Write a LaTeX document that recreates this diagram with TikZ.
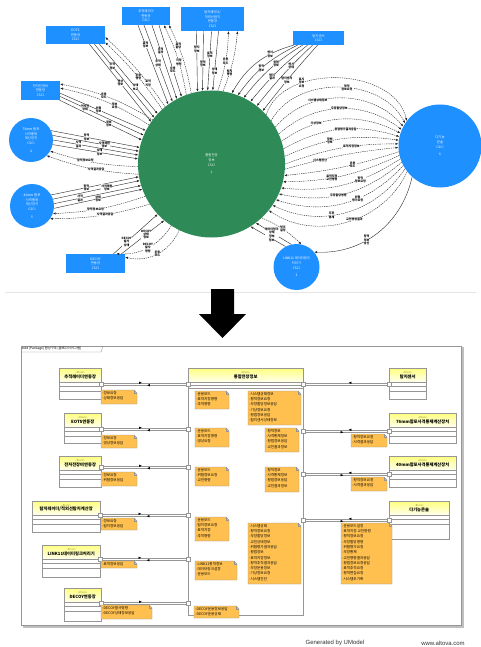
\documentclass[tikz,border=0pt]{standalone}
\usepackage{fontspec}
\setmainfont{Noto Sans CJK KR}
\newfontfamily\footfont{Liberation Sans}
\usetikzlibrary{arrows.meta,decorations.markings}
\definecolor{cblue}{RGB}{30,144,255}
\definecolor{cgreen}{RGB}{46,139,87}
\definecolor{cnote}{RGB}{255,192,80}
\definecolor{cgray}{RGB}{150,150,150}
\definecolor{colive}{RGB}{150,150,40}
\newcommand\mkblock[6]{%
  \node[blkhdr, minimum width=#4pt, anchor=north west] (#1) at (#2,#3)
    {{\fontsize{2.6}{3}\selectfont\color{colive}«Block»}\\[-0.3pt]{\bfseries #6}};
  \draw[clsline] (#2,#3+14) rectangle (#2+#4,#5);
  \draw[clsline] (#2,#3+18.5) -- (#2+#4,#3+18.5);
  \draw[clsline] (#2,#3+23) -- (#2+#4,#3+23);
}
\newcommand\mknote[6]{%
  \filldraw[notebox] (#2,#3) -- (#2+#4-3,#3) -- (#2+#4,#3+3) -- (#2+#4,#3+#5) -- (#2,#3+#5) -- cycle;
  \draw[notebox, fill=none] (#2+#4-3,#3) -- (#2+#4-3,#3+3) -- (#2+#4,#3+3);
  \node[notetext, anchor=north west] (#1) at (#2+0.6,#3+0.6) {#6};
}
\begin{document}
\begin{tikzpicture}[x=1pt,y=-1pt,
  sol/.style={draw=black!85, line width=0.4pt, -{Latex[length=2.8pt,width=2.2pt]}},
  das/.style={sol, dash pattern=on 1.3pt off 0.9pt},
  lbl/.style={font=\fontsize{3}{3.4}\selectfont\bfseries, align=center, fill=white, inner sep=0.1pt, text=black},
  cnode/.style={circle, inner sep=0pt, fill=cblue, text=white, font=\fontsize{3.3}{4.6}\selectfont, align=center},
  bnode/.style={rectangle, inner sep=0pt, fill=cblue, text=white, font=\fontsize{3.3}{4.6}\selectfont, align=center},
  blkhdr/.style={draw=cgray, line width=0.4pt, top color=yellow!50, bottom color=yellow!6, minimum height=14pt, inner sep=0.5pt, align=center, font=\fontsize{4.3}{4.6}\selectfont},
  clsline/.style={draw=cgray, line width=0.45pt},
  notebox/.style={fill=cnote, draw=cgray, line width=0.4pt},
  notetext/.style={font=\fontsize{3.6}{5.3}\selectfont, align=left, inner sep=0.5pt},
  port/.style={draw=cgray, fill=white, minimum size=4.5pt, inner sep=0pt, line width=0.4pt},
  conn/.style={draw=cgray, line width=0.5pt},
  midR/.style={postaction={decorate}, decoration={markings, mark=at position 0.47 with {\arrow[black]{Latex[length=3pt,width=2.5pt]}}}},
  midL/.style={postaction={decorate}, decoration={markings, mark=at position 0.53 with {\arrowreversed[black]{Latex[length=3pt,width=2.5pt]}}}}
]
\useasboundingbox (0,0) rectangle (481,647);
\fill[white] (0,0) rectangle (481,647);

% ================= TOP DIAGRAM =================
\node[cnode, fill=cgreen, minimum size=147pt] (G) at (211.5,164) {통합전장\\정보\\CSCI\\[3pt]1};
\node[cnode, minimum size=83pt] (D) at (440,146) {다기능\\콘솔\\CSCI\\[3pt]6};
\node[cnode, minimum size=46pt] (L) at (296.5,267) {LINK11 데이터링크\\처리기\\CSCI\\[3pt]3};
\node[cnode, minimum size=44pt] (C76) at (31,140) {76mm 함포\\사격통제\\계산장치\\CSCI\\[3pt]4};
\node[cnode, minimum size=44pt] (C40) at (32,206) {40mm 함포\\사격통제\\계산장치\\CSCI\\[3pt]5};
\node[bnode, minimum width=48pt, minimum height=18pt] (T1) at (146,16) {추적레이더\\연동장\\CSCI};
\node[bnode, minimum width=63pt, minimum height=24pt] (T2) at (212.5,19) {탐지레이더/\\적외선탐지\\연동장\\CSCI};
\node[bnode, minimum width=59pt, minimum height=18pt] (E) at (75.5,35) {EOTS\\연동장\\CSCI};
\node[bnode, minimum width=39pt, minimum height=19pt] (W) at (40.5,90.5) {전자전장비\\연동장\\CSCI};
\node[bnode, minimum width=51pt, minimum height=14pt] (S) at (318.5,38) {탐지센서\\CSCI};
\node[bnode, minimum width=59pt, minimum height=19pt] (Y) at (95.5,263.5) {DECOY\\연동장\\CSCI};

% 추적레이더
\foreach \dx/\ang/\p/\l in {-8/126/0.25/표적\\정보, -2/122/0.5/추적\\상태, 6/118/0.35/추적\\결과, 13/114/0.62/운용\\모드}
  \draw[sol] ([xshift=\dx pt]T1.south) -- node[lbl,pos=\p]{\l} (G.\ang);
\foreach \ang/\dx/\p/\l in {110/18/0.45/지정\\명령, 106/23/0.7/표적\\할당}
  \draw[das] (G.\ang) to[bend right=8] node[lbl,pos=\p]{\l} ([xshift=\dx pt]T1.south);
% 탐지레이더
\foreach \dx/\ang/\p/\l in {-16/101/0.3/탐지\\정보, -9/97/0.55/항적\\정보, -1/93/0.4/표적\\정보, 6/89/0.68/상태\\정보}
  \draw[sol] ([xshift=\dx pt]T2.south) -- node[lbl,pos=\p]{\l} (G.\ang);
\foreach \ang/\dx/\p/\l in {85/16/0.5/운용\\모드, 81/25/0.3/탐지\\명령}
  \draw[das] (G.\ang) to[bend right=8] node[lbl,pos=\p]{\l} ([xshift=\dx pt]T2.south);
% 탐지센서
\foreach \dx/\ang/\b/\p/\l in {-25/74/22/0.3/센서\\정보, -21/69/14/0.55/항적\\정보, -16/64/10/0.4/위협\\정보, -11/58/6/0.6/탐지\\결과, -6/52/4/0.35/센서\\상태, -1/46/2/0.55/탐지센서\\정보}
  \draw[sol] ([xshift=\dx pt]S.south) to[bend right=\b] node[lbl,pos=\p]{\l} (G.\ang);
% EOTS
\foreach \dx/\ang/\p/\l in {14/145/0.5/영상\\정보, 19/141/0.3/추적\\정보, 24/137/0.62/상태\\보고}
  \draw[sol] ([xshift=\dx pt]E.south) -- node[lbl,pos=\p]{\l} (G.\ang);
\foreach \ang/\a/\p/\l in {132/-14/0.45/운용\\명령, 129/-4/0.3/표적\\지정}
  \draw[das] (G.\ang) to[bend right=6] node[lbl,pos=\p]{\l} (E.\a);
% 전자전
\foreach \a/\ang/\p/\l in {-8/153/0.45/위협\\정보, -17/157/0.3/전자전\\상태, -27/161/0.6/경보\\정보}
  \draw[sol] (W.\a) -- node[lbl,pos=\p]{\l} (G.\ang);
\foreach \ang/\a/\p/\l in {143/18/0.55/운용\\모드, 148/7/0.4/정보\\요청}
  \draw[das] (G.\ang) to[bend right=10] node[lbl,pos=\p]{\l} (W.\a);
% 76mm
\foreach \a/\ang/\p/\l in {25/167/0.4/항적\\정보, 12/170/0.6/사격제원\\정보, 0/173/0.3/사격\\결과, -12/176/0.55/상태\\정보}
  \draw[sol] (C76.\a) -- node[lbl,pos=\p]{\l} (G.\ang);
\foreach \ang/\a/\p/\l in {182/-30/0.6/항적정보요청, 188/-45/0.45/사격결과응답}
  \draw[das] (G.\ang) to[bend left=8] node[lbl,pos=\p]{\l} (C76.\a);
% 40mm
\foreach \a/\ang/\p/\l in {30/190/0.4/항적\\정보, 18/193.5/0.62/사격제원\\정보, 6/197/0.3/사격\\결과, -6/200/0.5/상태\\정보}
  \draw[sol] (C40.\a) -- node[lbl,pos=\p]{\l} (G.\ang);
\foreach \ang/\a/\p/\l in {206/-20/0.55/항적정보요청, 213/-35/0.45/사격결과응답}
  \draw[das] (G.\ang) to[bend left=8] node[lbl,pos=\p]{\l} (C40.\a);
% DECOY
\draw[sol] ([xshift=18pt]Y.north) -- node[lbl,pos=0.3]{DECOY\\발사\\상태} (G.223);
\draw[sol] ([xshift=26pt]Y.north) -- node[lbl,pos=0.58]{DECOY\\상태\\정보} (G.230);
\draw[das] (G.237) to[bend left=30] node[lbl,pos=0.5]{DECOY\\발사\\명령} (Y.25);
\draw[das] (G.244) to[bend left=40] node[lbl,pos=0.5]{운용\\모드} (Y.12);
% LINK11
\draw[sol] (L.118) -- node[lbl,pos=0.4]{항적\\정보} (G.-58);
\draw[sol] (L.103) -- node[lbl,pos=0.55]{데이터링크\\상태\\정보} (G.-53);
\draw[das] (G.-47) to[bend left=10] node[lbl,pos=0.5]{링크\\설정} (L.78);
% 다기능 콘솔
\foreach \ga/\da/\b/\p/\l in {42/143/75/0.3/표시\\정보\\요청, 36/147/62/0.55/항적\\정보요청, 30/152/50/0.35/시스템상태정보, 24/157/40/0.5/무장할당정보, 18/162/31/0.3/기상정보, 12/167/23/0.55/위협평가결과응답, 6/172/16/0.4/항법\\정보, 0/177/10/0.6/표적지정정보, -4/182/5/0.3/시스템진단}
  \draw[das] (G.\ga) to[bend left=\b] node[lbl,pos=\p]{\l} (D.\da);
\foreach \da/\ga/\b/\p/\l in {188/-9/6/0.4/운용\\모드, 193/-14/12/0.6/표적지정\\교전명령, 198/-19/19/0.35/항적\\정보요청, 203/-24/26/0.55/무장할당명령, 208/-29/33/0.4/위협\\평가요청, 213/-34/41/0.6/무장\\통제, 218/-39/50/0.45/교전명령결과}
  \draw[das] (D.\da) to[bend left=\b] node[lbl,pos=\p]{\l} (G.\ga);
\draw[sol] (D.228) to[bend left=40] node[lbl,pos=0.6]{항적\\정보\\송신} (L.40);

% big arrow
\draw[black!10, line width=0.4pt] (5,292) -- (476,292);
\fill[black] (211,289) -- (234,289) -- (234,314) -- (246,314) -- (222.5,338) -- (199,314) -- (211,314) -- cycle;

% ================= BOTTOM DIAGRAM =================
\draw[black!25, line width=1.4pt] (23,348) -- (463,348) -- (463,627) -- (23,627);
\draw[cgray, fill=white, line width=0.5pt] (21,346) rectangle (461,625);
\draw[cgray, line width=0.4pt] (21,352) -- (101,352) -- (103,346);
\node[anchor=west, font=\fontsize{3.3}{3.5}\selectfont, inner sep=0pt] (ttl) at (22,349) {bdd [Package] 합성구조 [블록다이어그램]};

% center block
\node[blkhdr, minimum width=115pt, anchor=north west] (CC) at (188,368)
  {{\fontsize{2.6}{3}\selectfont\color{colive}«Block»}\\[-0.3pt]{\bfseries 통합전장정보}};
\draw[clsline] (188,382) rectangle (303,615);
\draw[clsline] (188,385.5) -- (303,385.5);
\draw[clsline] (188,388.5) -- (303,388.5);

% left blocks
\mkblock{A1}{59}{368}{42}{399}{추적레이더연동장}
\mkblock{A2}{64}{413}{37}{443}{EOTS연동장}
\mkblock{A3}{59}{456}{42}{487}{전자전장비연동장}
\mkblock{A4}{32}{501}{68}{532}{탐지레이더/적외선탐지계산장}
\mkblock{A5}{42}{545}{58}{577}{LINK11데이터링크처리기}
\mkblock{A6}{64}{588}{37}{621}{DECOY연동장}
% right blocks
\mkblock{B1}{389}{368}{37}{399}{탐지센서}
\mkblock{B2}{389}{413}{67}{443}{76mm함포사격통제계산장치}
\mkblock{B3}{389}{456}{67}{487}{40mm함포사격통제계산장치}
\mkblock{B4}{389}{501}{60}{539}{다기능콘솔}

% ports
\node[port] (pA1) at (101,384) {};  \node[port] (qA1) at (188,384) {};
\node[port] (pA2) at (101,429) {};  \node[port] (qA2) at (188,429) {};
\node[port] (pA3) at (101,467) {};  \node[port] (qA3) at (188,467) {};
\node[port] (pA4) at (100,515) {};  \node[port] (qA4) at (188,515) {};
\node[port] (pA5) at (100,559) {};  \node[port] (qA5) at (188,559) {};
\node[port] (pA6) at (101,603) {};  \node[port] (qA6) at (188,603) {};
\node[port] (qB1) at (303,384) {};  \node[port] (pB1) at (389,384) {};
\node[port] (qB2) at (303,431) {};  \node[port] (pB2) at (389,431) {};
\node[port] (qB3) at (303,474) {};  \node[port] (pB3) at (389,474) {};
\node[port] (qB4) at (303,520) {};  \node[port] (pB4) at (389,520) {};

% connectors left
\foreach \i in {1,2,3,4,5}{
  \draw[conn, midR] ([yshift=1.2pt]pA\i.east) -- ([yshift=1.2pt]qA\i.west);
  \draw[conn, midL] ([yshift=-1.2pt]pA\i.east) -- ([yshift=-1.2pt]qA\i.west);
}
\draw[conn, midR] ([yshift=1.2pt]pA6.east) -- ([yshift=1.2pt]qA6.west);
\draw[conn] ([yshift=-1.2pt]pA6.east) -- ([yshift=-1.2pt]qA6.west);
% connectors right
\draw[conn, midL] ([yshift=1.2pt]qB1.east) -- ([yshift=1.2pt]pB1.west);
\draw[conn] ([yshift=-1.2pt]qB1.east) -- ([yshift=-1.2pt]pB1.west);
\foreach \i in {2,3,4}{
  \draw[conn, midL] ([yshift=1.2pt]qB\i.east) -- ([yshift=1.2pt]pB\i.west);
  \draw[conn, midR] ([yshift=-1.2pt]qB\i.east) -- ([yshift=-1.2pt]pB\i.west);
}

% notes
\mknote{N1}{101}{390}{36}{14}{-정보요청\\-상태정보응답}
\mknote{N2}{101}{435}{36}{13}{-정보요청\\-영상정보응답}
\mknote{N3}{101}{472}{36}{14}{-정보요청\\-위협정보응답}
\mknote{N4}{101}{518}{36}{12}{-정보요청\\-탐지정보응답}
\mknote{N5}{101}{561}{36}{7}{-표적정보응답}
\mknote{N6}{101}{605}{51}{14}{-DECOY발사명령\\-DECOY상태정보응답}
\mknote{NA}{195}{391}{34}{18}{-운용모드\\-표적지정명령\\-추적명령}
\mknote{NB}{248}{391}{53}{34}{-시스템상태정보\\-항적정보요청\\-무장할당정보응답\\-기상정보요청\\-항법정보응답\\-탐지센서상태정보}
\mknote{NC}{195}{428}{34}{19}{-운용모드\\-표적지정명령\\-영상요청}
\mknote{ND}{265}{428}{34}{24}{-항적정보\\-사격통제정보\\-항법정보응답\\-교전결과정보}
\mknote{NE}{351}{434}{36}{13}{-항적정보요청\\-사격결과응답}
\mknote{NF}{195}{467}{34}{19}{-운용모드\\-위협정보요청\\-교전명령}
\mknote{NG}{265}{467}{34}{25}{-항적정보\\-사격통제정보\\-항법정보응답\\-교전결과정보}
\mknote{NH}{351}{477}{36}{14}{-항적정보요청\\-사격결과응답}
\mknote{NI}{195}{517}{34}{24}{-운용모드\\-탐지정보요청\\-표적지정\\-추적명령}
\mknote{NJ}{195}{561}{42}{19}{-LINK11항적정보\\-데이터링크설정\\-운용모드}
\mknote{NK}{248}{523}{53}{61}{-시스템상태\\-항적정보요청\\-무장할당정보\\-교전상태정보\\-위협평가결과응답\\-항법정보\\-표적지정정보\\-항적추적결과응답\\-무장운용정보\\-기상정보요청\\-시스템진단}
\mknote{NL}{341}{523}{51}{61}{-운용모드설정\\-표적지정 교전명령\\-항적정보요청\\-무장할당명령\\-위협평가요청\\-무장통제\\-교전명령결과응답\\-항법정보요청응답\\-표적추적요청\\-항적편집요청\\-시스템초기화}
\mknote{NM}{194}{606}{45}{12}{-DECOY운용정보응답\\-DECOY운용상태}

% footer
\node[font=\footfont\fontsize{6}{7}\selectfont, text=black!80, inner sep=0pt] (gen) at (335,643) {Generated by UModel};
\node[font=\footfont\fontsize{6}{7}\selectfont, text=black!80, inner sep=0pt] (www) at (443,643) {www.altova.com};
\end{tikzpicture}
\end{document}
